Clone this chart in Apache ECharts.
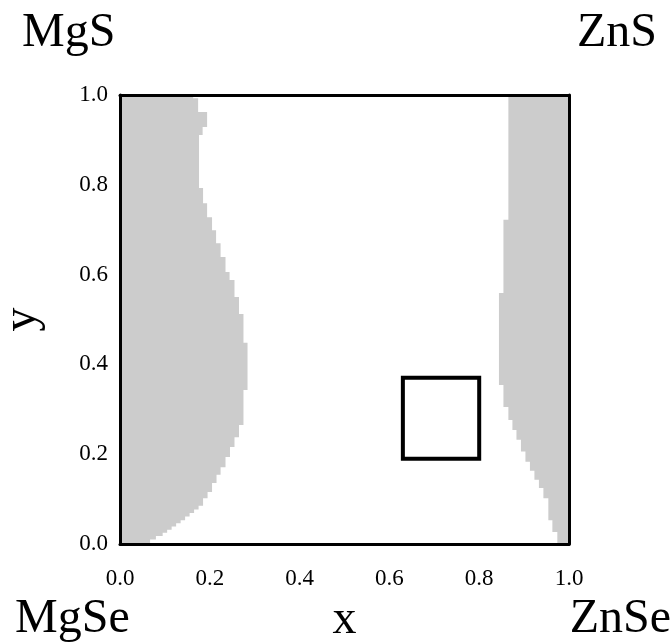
<!DOCTYPE html>
<html>
<head>
<meta charset="utf-8">
<script src="https://cdn.jsdelivr.net/npm/echarts@6/dist/echarts.min.js"></script>
<style>html,body{margin:0;padding:0;background:#fff;}#c{width:671px;height:644px;}</style>
</head>
<body>
<div id="c"></div>
<script>
// Left gray region: rows [yTop, yBottom] with boundary x (gray from x=0 to boundary)
var leftYTop = [1.000,0.993,0.962,0.929,0.911,0.793,0.759,0.728,0.699,0.670,0.639,0.606,0.588,0.550,0.512,0.448,0.343,0.265,0.238,0.216,0.194,0.171,0.154,0.136,0.116,0.102,0.085,0.077,0.069,0.061,0.053,0.046,0.039,0.032,0.025,0.018,0.010];
var leftYBot = [0.993,0.962,0.929,0.911,0.793,0.759,0.728,0.699,0.670,0.639,0.606,0.588,0.550,0.512,0.448,0.343,0.265,0.238,0.216,0.194,0.171,0.154,0.136,0.116,0.102,0.085,0.077,0.069,0.061,0.053,0.046,0.039,0.032,0.025,0.018,0.010,0.000];
var leftX    = [0.163,0.174,0.194,0.184,0.176,0.185,0.194,0.205,0.214,0.224,0.235,0.244,0.255,0.265,0.275,0.284,0.275,0.265,0.255,0.245,0.235,0.224,0.215,0.205,0.195,0.185,0.175,0.165,0.155,0.145,0.135,0.125,0.115,0.105,0.095,0.080,0.067];
// Right gray region: rows with boundary x (gray from boundary to x=1)
var rightYTop = [1.000,0.722,0.559,0.354,0.305,0.276,0.254,0.232,0.206,0.183,0.163,0.143,0.125,0.102,0.053,0.027];
var rightYBot = [0.722,0.559,0.354,0.305,0.276,0.254,0.232,0.206,0.183,0.163,0.143,0.125,0.102,0.053,0.027,0.000];
var rightX    = [0.865,0.854,0.844,0.854,0.865,0.874,0.883,0.893,0.903,0.913,0.923,0.933,0.943,0.954,0.963,0.974];
// Box (x range, y range)
var boxX = [0.63, 0.80];
var boxY = [0.19, 0.37];
var cornerLabels = {tl: 'MgS', tr: 'ZnS', bl: 'MgSe', br: 'ZnSe'};
var xName = 'x', yName = 'y';

var FONT = '"Liberation Serif", "Times New Roman", serif';

// build step polygons (in data coordinates) from the arrays
function stepPolygon(xs, tops, bots, edgeX) {
  var pts = [[edgeX, tops[0]]];
  for (var i = 0; i < xs.length; i++) {
    pts.push([xs[i], tops[i]]);
    pts.push([xs[i], bots[i]]);
  }
  pts.push([edgeX, bots[bots.length - 1]]);
  return pts;
}
var leftPoly = stepPolygon(leftX, leftYTop, leftYBot, 0);
var rightPoly = stepPolygon(rightX, rightYTop, rightYBot, 1);

function polyRenderer(poly) {
  return function (params, api) {
    if (params.dataIndex !== 0) return;
    return {
      type: 'polygon',
      shape: { points: poly.map(function (p) { return api.coord(p); }) },
      style: { fill: '#cccccc', stroke: null }
    };
  };
}

var axisCommon = {
  type: 'value', min: 0, max: 1, interval: 0.2,
  splitLine: { show: false }, axisTick: { show: false },
  axisLine: { show: true, onZero: false, lineStyle: { color: '#000', width: 3 } },
  z: 10
};

var chart = echarts.init(document.getElementById('c'), null, { renderer: 'canvas' });
chart.setOption({
  animation: false,
  backgroundColor: '#fff',
  grid: { left: 120, top: 95, width: 449, height: 449, show: false, containLabel: false, outerBoundsMode: 'none' },
  xAxis: [
    Object.assign({}, axisCommon, {
      position: 'bottom',
      name: xName, nameLocation: 'middle', nameGap: 52,
      nameTextStyle: { fontFamily: FONT, fontSize: 48, color: '#000' },
      axisLabel: { margin: 23, fontFamily: FONT, fontSize: 23, color: '#000',
        formatter: function (v) { return v.toFixed(1); } }
    }),
    Object.assign({}, axisCommon, { position: 'top', axisLabel: { show: false } })
  ],
  yAxis: [
    Object.assign({}, axisCommon, {
      position: 'left',
      name: yName, nameLocation: 'middle', nameGap: 74, nameRotate: 90,
      nameTextStyle: { fontFamily: FONT, fontSize: 48, color: '#000' },
      axisLabel: { margin: 12, fontFamily: FONT, fontSize: 23, color: '#000',
        formatter: function (v) { return v.toFixed(1); } }
    }),
    Object.assign({}, axisCommon, { position: 'right', axisLabel: { show: false } })
  ],
  series: [
    { type: 'custom', renderItem: polyRenderer(leftPoly), data: [0], xAxisIndex: 0, yAxisIndex: 0, silent: true },
    { type: 'custom', renderItem: polyRenderer(rightPoly), data: [0], xAxisIndex: 0, yAxisIndex: 0, silent: true },
    {
      type: 'custom', xAxisIndex: 0, yAxisIndex: 0, silent: true, z: 5,
      data: [[boxX[0], boxY[0], boxX[1], boxY[1]]],
      renderItem: function (params, api) {
        var a = api.coord([api.value(0), api.value(3)]);
        var b = api.coord([api.value(2), api.value(1)]);
        return { type: 'rect', shape: { x: a[0], y: a[1], width: b[0] - a[0], height: b[1] - a[1] },
          style: { fill: null, stroke: '#000', lineWidth: 4 } };
      }
    }
  ],
  graphic: [
    { type: 'text', x: 22, y: 33, style: { text: cornerLabels.tl, font: '48px ' + FONT, fill: '#000', textVerticalAlign: 'middle' } },
    { type: 'text', x: 657, y: 33, style: { text: cornerLabels.tr, font: '48px ' + FONT, fill: '#000', textAlign: 'right', textVerticalAlign: 'middle' } },
    { type: 'text', x: 15, y: 619, style: { text: cornerLabels.bl, font: '48px ' + FONT, fill: '#000', textVerticalAlign: 'middle' } },
    { type: 'text', x: 671, y: 619, style: { text: cornerLabels.br, font: '48px ' + FONT, fill: '#000', textAlign: 'right', textVerticalAlign: 'middle' } }
  ]
});
</script>
</body>
</html>
